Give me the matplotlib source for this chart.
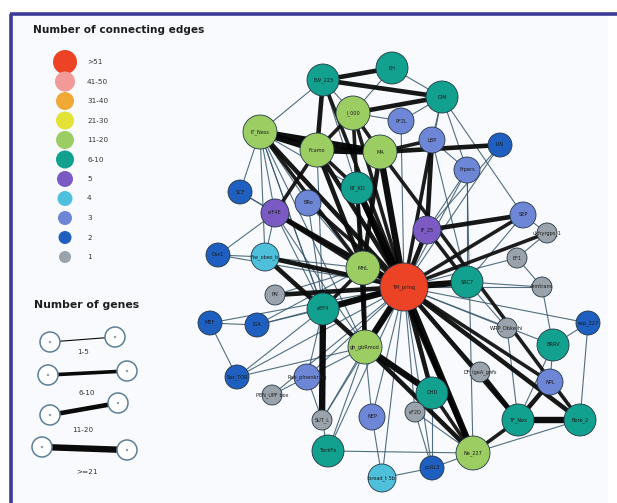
import matplotlib
matplotlib.use("Agg")
import matplotlib.pyplot as plt
from matplotlib.patches import Circle

# ---- legend categories -------------------------------------------------
edge_count_bins = [">51", "41-50", "31-40", "21-30", "11-20", "6-10", "5", "4", "3", "2", "1"]
bin_colors = ["#ec4326", "#f19a98", "#f0a935", "#e3e237", "#9ccd63", "#12a08f",
              "#7b5bc3", "#4ec0dc", "#6d86d6", "#1f5fbf", "#9aa3ab"]
gene_bins = ["1-5", "6-10", "11-20", ">=21"]

# ---- network nodes: name and degree bin -----------------------------------
node_names = ["TM_pring", "EW_223", "EH", "I_000", "PF2L", "IT_Ness", "Fcamo", "MA",
              "RT_KD", "SCF", "eIF4E", "BRo", "DIM", "LBP", "LIN", "Frpers",
              "SEP", "ukhyrgps_1", "IF_25", "Dsx1", "Fiw_obes_b", "MHL", "PN",
              "eEF4", "MEF", "IGA", "gh_gbRmod", "Sas_TOR", "Rab_plnenkring",
              "PEN_UPF box", "SUT_L", "NEP", "TbrkFx", "bread_t 5b", "EF1", "SRC7",
              "Armtrans", "exp_227", "WRP_Dbke.hi", "BRRV", "DF_lgeA_gnfs", "NPL",
              "DHD", "eF2D", "TF_Nex", "Bore_2", "Ne_227", "pcRL3"]
node_bins = [">51", "6-10", "6-10", "11-20", "3", "11-20", "11-20", "11-20",
             "6-10", "2", "5", "3", "6-10", "3", "2", "3",
             "3", "1", "5", "2", "4", "11-20", "1",
             "6-10", "2", "2", "11-20", "2", "3",
             "1", "1", "3", "6-10", "4", "1", "6-10",
             "1", "2", "1", "6-10", "1", "3",
             "6-10", "1", "6-10", "6-10", "11-20", "2"]

# ---- edges of the hub gene: partner and gene-count bin (index into gene_bins)
hub = "TM_pring"
hub_partner = ["MHL", "eEF4", "gh_gbRmod", "IF_25", "SRC7", "MA", "RT_KD", "Fcamo",
               "IT_Ness", "I_000", "EW_223", "Fiw_obes_b", "eIF4E", "BRo", "SCF", "PN",
               "IGA", "Ne_227", "DHD", "TF_Nex", "Bore_2", "NPL", "BRRV", "WRP_Dbke.hi",
               "Armtrans", "EF1", "exp_227", "DF_lgeA_gnfs", "eF2D", "NEP", "SUT_L",
               "Rab_plnenkring", "TbrkFx", "bread_t 5b", "pcRL3", "Frpers", "SEP", "LBP",
               "PF2L", "DIM", "ukhyrgps_1", "LIN", "Dsx1", "MEF", "Sas_TOR", "PEN_UPF box"]
hub_bin = [3, 3, 3, 2, 3, 3, 3, 2,
           2, 1, 1, 2, 2, 1, 0, 2,
           0, 3, 2, 2, 2, 1, 0, 0,
           0, 0, 0, 0, 0, 0, 0,
           0, 0, 0, 0, 0, 1, 1,
           0, 0, 1, 0, 0, 0, 0, 0]

# ---- remaining edges: source, target and gene-count bin ---------------------
edge_src = ["EW_223", "EW_223", "EH", "EH", "EW_223", "EW_223", "EW_223", "I_000",
            "I_000", "I_000", "I_000", "IT_Ness", "IT_Ness", "Fcamo", "MA", "MA",
            "PF2L", "DIM", "DIM", "LBP", "LBP", "LIN", "Frpers", "Frpers", "Frpers",
            "SEP", "SEP", "ukhyrgps_1", "EF1", "Armtrans", "SRC7", "exp_227", "BRRV",
            "BRRV", "NPL", "NPL", "TF_Nex", "TF_Nex", "Bore_2", "DF_lgeA_gnfs", "DHD",
            "eF2D", "RT_KD", "MA", "IT_Ness", "IT_Ness", "IT_Ness", "IT_Ness",
            "IT_Ness", "IT_Ness", "Fcamo", "Fcamo", "SCF", "eIF4E", "Fiw_obes_b",
            "eIF4E", "Dsx1", "Dsx1", "Fiw_obes_b", "MEF", "MEF", "IGA", "Sas_TOR",
            "eEF4", "eEF4", "eEF4", "MHL", "gh_gbRmod", "gh_gbRmod", "gh_gbRmod",
            "gh_gbRmod", "gh_gbRmod", "gh_gbRmod", "Rab_plnenkring", "Rab_plnenkring",
            "SUT_L", "TbrkFx", "NEP", "bread_t 5b", "pcRL3", "eF2D", "RT_KD",
            "IT_Ness", "IT_Ness", "eIF4E", "eIF4E", "BRo", "BRo", "Fcamo", "MA",
            "I_000", "Frpers", "LBP", "IF_25", "SEP", "DHD", "DHD", "WRP_Dbke.hi",
            "exp_227", "SRC7", "PN", "IGA", "Sas_TOR", "Rab_plnenkring", "EW_223",
            "IT_Ness", "Fcamo", "RT_KD"]
edge_dst = ["EH", "DIM", "DIM", "I_000", "I_000", "Fcamo", "IT_Ness", "DIM",
            "Fcamo", "MA", "PF2L", "Fcamo", "MA", "MA", "LIN", "LBP",
            "DIM", "LBP", "SEP", "Frpers", "IF_25", "IF_25", "IF_25", "SRC7", "Ne_227",
            "IF_25", "ukhyrgps_1", "EF1", "Armtrans", "BRRV", "Armtrans", "Bore_2", "NPL",
            "TF_Nex", "TF_Nex", "Bore_2", "Bore_2", "Ne_227", "Ne_227", "TF_Nex", "Ne_227",
            "Ne_227", "Ne_227", "Bore_2", "SCF", "eIF4E", "BRo", "Fiw_obes_b",
            "RT_KD", "MHL", "eIF4E", "RT_KD", "eIF4E", "Fiw_obes_b", "eEF4",
            "MHL", "Fiw_obes_b", "eIF4E", "MHL", "IGA", "Sas_TOR", "eEF4", "eEF4",
            "gh_gbRmod", "SUT_L", "MHL", "gh_gbRmod", "Rab_plnenkring", "SUT_L",
            "NEP", "TbrkFx", "DHD", "Ne_227", "SUT_L", "PEN_UPF box",
            "TbrkFx", "Ne_227", "bread_t 5b", "pcRL3", "Ne_227", "pcRL3", "MHL",
            "eEF4", "gh_gbRmod", "gh_gbRmod", "eEF4", "MHL", "eEF4", "MHL", "MHL",
            "RT_KD", "DIM", "SRC7", "SRC7", "SRC7", "eF2D", "pcRL3", "TF_Nex",
            "BRRV", "WRP_Dbke.hi", "MHL", "MHL", "gh_gbRmod", "eEF4", "RT_KD",
            "eEF4", "eEF4", "gh_gbRmod"]
edge_bin = [2, 2, 0, 0, 0, 2, 0, 2,
            1, 1, 0, 3, 3, 3, 2, 1,
            0, 0, 0, 0, 2, 0, 0, 0, 0,
            2, 0, 0, 0, 0, 0, 0, 0,
            0, 2, 0, 3, 1, 0, 2, 1,
            0, 2, 1, 0, 0, 0, 0,
            0, 1, 1, 1, 0, 0, 2,
            2, 0, 0, 0, 0, 0, 0, 0,
            2, 3, 1, 2, 0, 0,
            0, 0, 3, 2, 0, 0,
            0, 0, 0, 0, 0, 0, 1,
            0, 0, 0, 0, 0, 0, 2, 2,
            1, 0, 0, 1, 0, 0, 0, 0,
            0, 0, 0, 0, 0, 0, 0,
            0, 0, 1]

# ---- layout (pixel canvas, y downwards) ----------------------------------
layout = {
    "TM_pring": (404, 287), "EW_223": (323, 80), "EH": (392, 68), "I_000": (353, 113),
    "PF2L": (401, 121), "IT_Ness": (260, 132), "Fcamo": (317, 150), "MA": (380, 152),
    "RT_KD": (357, 188), "SCF": (240, 192), "eIF4E": (275, 213), "BRo": (308, 203),
    "DIM": (442, 97), "LBP": (432, 140), "LIN": (500, 145), "Frpers": (467, 170),
    "SEP": (523, 215), "ukhyrgps_1": (547, 233), "IF_25": (427, 230), "Dsx1": (218, 255),
    "Fiw_obes_b": (265, 257), "MHL": (363, 268), "PN": (275, 295), "eEF4": (323, 309),
    "MEF": (210, 323), "IGA": (257, 325), "gh_gbRmod": (365, 347), "Sas_TOR": (237, 377),
    "Rab_plnenkring": (307, 377), "PEN_UPF box": (272, 395), "SUT_L": (322, 420),
    "NEP": (372, 417), "TbrkFx": (328, 451), "bread_t 5b": (382, 478), "EF1": (517, 258),
    "SRC7": (467, 282), "Armtrans": (542, 287), "exp_227": (588, 323),
    "WRP_Dbke.hi": (507, 328), "BRRV": (553, 345), "DF_lgeA_gnfs": (480, 372),
    "NPL": (550, 382), "DHD": (432, 393), "eF2D": (415, 412), "TF_Nex": (518, 420),
    "Bore_2": (580, 420), "Ne_227": (473, 453), "pcRL3": (432, 468),
}
node_radius = {">51": 24, "11-20": 17, "6-10": 16, "5": 14, "4": 14, "3": 13,
               "2": 12, "1": 10}
edge_width = [0.8, 2.6, 3.3, 4.6]
edge_color = ["#35566a", "#111111", "#0a0a0a", "#000000"]

W, H = 617, 503
fig = plt.figure(figsize=(W / 100, H / 100), dpi=100)
ax = fig.add_axes([0, 0, 1, 1])
ax.set_xlim(0, W)
ax.set_ylim(H, 0)
ax.set_aspect("equal")
ax.axis("off")

# panel background and frame
ax.add_patch(plt.Rectangle((11, 14), 597, H - 14, facecolor="#f8fafd",
                           edgecolor="none", zorder=0))
ax.plot([10, W], [13.5, 13.5], color="#3b3b98", lw=2.6, solid_capstyle="butt", zorder=1)
ax.plot([11, 11], [13.5, H], color="#3b3b98", lw=2.6, solid_capstyle="butt", zorder=1)

color_of = dict(zip(edge_count_bins, bin_colors))

all_src = [hub] * len(hub_partner) + edge_src
all_dst = hub_partner + edge_dst
all_bin = hub_bin + edge_bin

# edges: thin ones underneath, heavy ones on top
for i in sorted(range(len(all_src)), key=lambda k: all_bin[k]):
    (x0, y0), (x1, y1) = layout[all_src[i]], layout[all_dst[i]]
    b = all_bin[i]
    ax.plot([x0, x1], [y0, y1], color=edge_color[b], lw=edge_width[b],
            solid_capstyle="round", zorder=2 + b * 0.1, alpha=0.95 if b else 0.85)

# nodes
for name, b in zip(node_names, node_bins):
    x, y = layout[name]
    ax.add_patch(Circle((x, y), node_radius[b], facecolor=color_of[b],
                        edgecolor="#243746", lw=0.6, zorder=5))
    ax.text(x, y, name, ha="center", va="center", fontsize=3.6, color="#1b1b1b",
            zorder=6)

# legend: node colour by number of connecting edges
ax.text(33, 30, "Number of connecting edges", fontsize=7.6, fontweight="bold",
        color="#1e1e1e", ha="left", va="center")
leg_r = [12, 10, 9, 9, 9, 9, 8, 7.5, 7, 6.5, 6]
for k, (lab, col) in enumerate(zip(edge_count_bins, bin_colors)):
    y = 62 + k * 19.5
    ax.add_patch(Circle((65, y), leg_r[k], facecolor=col, edgecolor="none", zorder=5))
    ax.text(87, y, lab, fontsize=5.2, color="#333333", ha="left", va="center")

# legend: edge thickness by number of genes
ax.text(34, 305, "Number of genes", fontsize=7.8, fontweight="bold",
        color="#1e1e1e", ha="left", va="center")
gene_leg = [((50, 342), (115, 337), (83, 352)),
            ((48, 375), (127, 371), (87, 393)),
            ((50, 415), (118, 403), (83, 430)),
            ((42, 447), (127, 450), (87, 472))]
for k, (lab, (p0, p1, pl)) in enumerate(zip(gene_bins, gene_leg)):
    ax.plot([p0[0], p1[0]], [p0[1], p1[1]], color="#0a0a0a", lw=edge_width[k],
            zorder=4)
    for p in (p0, p1):
        ax.add_patch(Circle(p, 10, facecolor="white", edgecolor="#5b7f96", lw=1.1,
                            zorder=5))
        ax.add_patch(Circle(p, 1.2, facecolor="#8aa0b0", edgecolor="none", zorder=6))
    ax.text(pl[0], pl[1], lab, fontsize=5.2, color="#333333", ha="center", va="center")

fig.savefig("out.png", dpi=100)
